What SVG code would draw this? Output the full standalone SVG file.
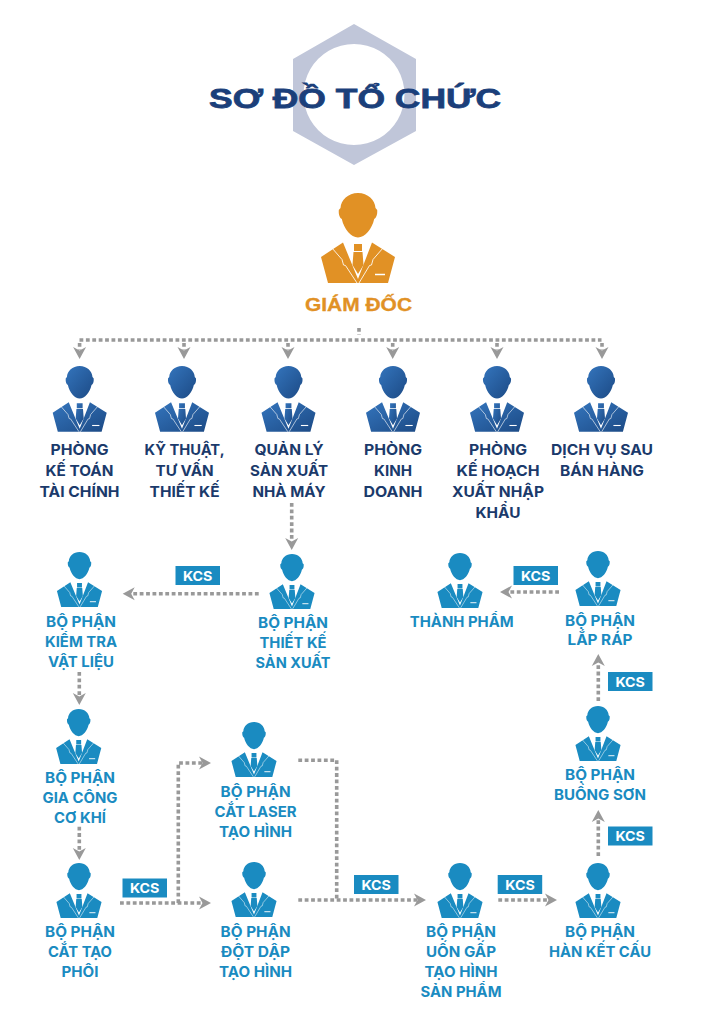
<svg xmlns="http://www.w3.org/2000/svg" width="723" height="1024" viewBox="0 0 723 1024">
<style>
text{font-family:Inter,"Noto Sans","DejaVu Sans",sans-serif;font-weight:700;text-anchor:middle}
.nv{font-size:14.6px;fill:#1b3a6b}
.bl{font-size:14.2px;fill:#1a8bc1}
.kt{font-size:13.600px;fill:#fff}
.kb{fill:#1a8bc1}
.c{fill:none;stroke:#999;stroke-width:3.6;stroke-dasharray:3.8 2.6}
.ia{marker-end:url(#ah)}
.ic-b{fill:url(#gb)}
.ic-l{fill:#1a8bc1}
.ic-o{fill:#e19125}
.ln{fill:none;stroke:#fff;stroke-width:.85}
</style>
<defs>
<linearGradient id="gb" x1="0" y1="0" x2="1" y2="1"><stop offset="0" stop-color="#3475bd"/><stop offset="1" stop-color="#1c4a85"/></linearGradient>
<marker id="ah" markerUnits="userSpaceOnUse" markerWidth="15" markerHeight="15" refX="3" refY="7.500" orient="auto"><path d="M0 1L12 7.500L0 14L3.500 7.500Z" fill="#999"/></marker>
<g id="p">
<path d="M0 0C-10 0-17 7-17.5 15L-19.2 17C-19.600 22-18 25-16.200 26C-14 36-7 44.500 0 44.500C7 44.500 14 36 16.200 26C18 25 19.600 22 19.200 17L17.500 15C17 7 10 0 0 0Z"/>
<path d="M-15 49.500L-37 64L-30 90L30 90L37 64L14 49.500L0 86Z"/>
<path d="M-4 51H4V58H-4ZM-4.500 59H4.500L5.500 72L0 81L-5.500 72Z"/>
<path class="ln" d="M-26 55L-16 66.500L-14.500 72L-12.500 72.500L-1 90M25 55L15 66.500L13.500 72L11.500 72.500L1 90"/>
<path class="ln" d="M17 81.500H27" style="stroke-width:1.500"/>
</g>
</defs>
<g id="title">
<path fill="#c0c6d9" fill-rule="evenodd" d="M354 24L416 59V131L354 165L293 131V59ZM354 44a50.500 50.500 0 1 0 0.010 0Z"/>
<text x="355" y="108" font-size="28" textLength="292" lengthAdjust="spacingAndGlyphs" style="font-family:'Liberation Sans',sans-serif;font-weight:700;fill:#1b3f7a;stroke:#1b3f7a;stroke-width:.8">SƠ ĐỒ TỔ CHỨC</text>
</g>
<g id="connectors">
<path class="c" d="M359 328V335"/>
<path class="c" d="M79.500 340H601.500"/>
<path class="c ia" d="M79.600 343V350"/>
<path class="c ia" d="M184 343V350"/>
<path class="c ia" d="M288 343V350"/>
<path class="c ia" d="M392.700 343V350"/>
<path class="c ia" d="M497 343V350"/>
<path class="c ia" d="M602 343V350"/>
<path class="c ia" d="M291.700 503V541"/>
<path class="c ia" d="M258.700 593.700H131.700"/>
<path class="c ia" d="M79.300 672V696"/>
<path class="c ia" d="M79.300 826.700V851"/>
<path class="c ia" d="M120 903H202"/>
<path class="c ia" d="M178.300 903V763H202"/>
<path class="c" d="M298.300 760.300H336.700V900"/>
<path class="c ia" d="M298.300 900H417"/>
<path class="c ia" d="M498.300 900H548"/>
<path class="c ia" d="M598.300 856V819"/>
<path class="c ia" d="M598.300 701V663"/>
<path class="c ia" d="M559 592H509"/>
</g>
<g id="kcs">
<rect class="kb" x="175.500" y="566" width="44.500" height="19"/><text class="kt" x="197.700" y="580.800" textLength="29.500" lengthAdjust="spacingAndGlyphs">KCS</text>
<rect class="kb" x="513.500" y="566" width="44.500" height="19"/><text class="kt" x="535.700" y="580.800" textLength="29.500" lengthAdjust="spacingAndGlyphs">KCS</text>
<rect class="kb" x="608" y="672" width="44.500" height="19"/><text class="kt" x="630.200" y="686.800" textLength="29.500" lengthAdjust="spacingAndGlyphs">KCS</text>
<rect class="kb" x="608" y="826.500" width="44.500" height="19"/><text class="kt" x="630.200" y="841.300" textLength="29.500" lengthAdjust="spacingAndGlyphs">KCS</text>
<rect class="kb" x="497.700" y="875" width="44.500" height="19"/><text class="kt" x="520" y="889.800" textLength="29.500" lengthAdjust="spacingAndGlyphs">KCS</text>
<rect class="kb" x="122.500" y="878.500" width="44.500" height="19"/><text class="kt" x="144.700" y="893.300" textLength="29.500" lengthAdjust="spacingAndGlyphs">KCS</text>
<rect class="kb" x="354" y="875" width="44.500" height="19"/><text class="kt" x="376.200" y="889.800" textLength="29.500" lengthAdjust="spacingAndGlyphs">KCS</text>
</g>
<g id="n-giam-doc"><use href="#p" class="ic-o" transform="translate(358 193)"/><text x="358.500" y="311" font-size="18" textLength="107" lengthAdjust="spacingAndGlyphs" style="font-family:'Liberation Sans',sans-serif;fill:#e19125;stroke:#e19125;stroke-width:.3">GIÁM ĐỐC</text></g>
<g id="n-ke-toan"><use href="#p" class="ic-b" transform="translate(79.700 366) scale(.73)"/><text class="nv" x="79.500" y="454.500" textLength="58" lengthAdjust="spacingAndGlyphs">PHÒNG</text><text class="nv" x="79.500" y="475.500" textLength="68" lengthAdjust="spacingAndGlyphs">KẾ TOÁN</text><text class="nv" x="79.500" y="496.500" textLength="80" lengthAdjust="spacingAndGlyphs">TÀI CHÍNH</text></g>
<g id="n-ky-thuat"><use href="#p" class="ic-b" transform="translate(182 366) scale(.73)"/><text class="nv" x="184.600" y="454.500" textLength="80" lengthAdjust="spacingAndGlyphs">KỸ THUẬT,</text><text class="nv" x="184.600" y="475.500" textLength="58" lengthAdjust="spacingAndGlyphs">TƯ VẤN</text><text class="nv" x="184.600" y="496.500" textLength="70" lengthAdjust="spacingAndGlyphs">THIẾT KẾ</text></g>
<g id="n-quan-ly"><use href="#p" class="ic-b" transform="translate(288.500 366) scale(.73)"/><text class="nv" x="289" y="454.500" textLength="69" lengthAdjust="spacingAndGlyphs">QUẢN LÝ</text><text class="nv" x="289" y="475.500" textLength="78" lengthAdjust="spacingAndGlyphs">SẢN XUẤT</text><text class="nv" x="289" y="496.500" textLength="73" lengthAdjust="spacingAndGlyphs">NHÀ MÁY</text></g>
<g id="n-kinh-doanh"><use href="#p" class="ic-b" transform="translate(393 366) scale(.73)"/><text class="nv" x="393" y="454.500" textLength="58" lengthAdjust="spacingAndGlyphs">PHÒNG</text><text class="nv" x="393" y="475.500" textLength="38" lengthAdjust="spacingAndGlyphs">KINH</text><text class="nv" x="393" y="496.500" textLength="59" lengthAdjust="spacingAndGlyphs">DOANH</text></g>
<g id="n-ke-hoach"><use href="#p" class="ic-b" transform="translate(497 366) scale(.73)"/><text class="nv" x="498" y="454.500" textLength="58" lengthAdjust="spacingAndGlyphs">PHÒNG</text><text class="nv" x="498" y="475.500" textLength="83" lengthAdjust="spacingAndGlyphs">KẾ HOẠCH</text><text class="nv" x="498" y="496.500" textLength="92" lengthAdjust="spacingAndGlyphs">XUẤT NHẬP</text><text class="nv" x="498" y="517.500" textLength="45" lengthAdjust="spacingAndGlyphs">KHẨU</text></g>
<g id="n-dich-vu"><use href="#p" class="ic-b" transform="translate(601 366) scale(.73)"/><text class="nv" x="602" y="454.500" textLength="102" lengthAdjust="spacingAndGlyphs">DỊCH VỤ SAU</text><text class="nv" x="602" y="475.500" textLength="84" lengthAdjust="spacingAndGlyphs">BÁN HÀNG</text></g>
<g id="n-thiet-ke"><use href="#p" class="ic-l" transform="translate(292 554) scale(.61)"/><text class="bl" x="293" y="628" textLength="70" lengthAdjust="spacingAndGlyphs">BỘ PHẬN</text><text class="bl" x="293" y="648" textLength="67" lengthAdjust="spacingAndGlyphs">THIẾT KẾ</text><text class="bl" x="293" y="668" textLength="75" lengthAdjust="spacingAndGlyphs">SẢN XUẤT</text></g>
<g id="n-kiem-tra"><use href="#p" class="ic-l" transform="translate(79.500 552) scale(.61)"/><text class="bl" x="81" y="627" textLength="70" lengthAdjust="spacingAndGlyphs">BỘ PHẬN</text><text class="bl" x="81" y="647" textLength="72" lengthAdjust="spacingAndGlyphs">KIỂM TRA</text><text class="bl" x="81" y="667" textLength="66" lengthAdjust="spacingAndGlyphs">VẬT LIỆU</text></g>
<g id="n-gia-cong"><use href="#p" class="ic-l" transform="translate(78.700 709) scale(.61)"/><text class="bl" x="80" y="783" textLength="70" lengthAdjust="spacingAndGlyphs">BỘ PHẬN</text><text class="bl" x="80" y="803" textLength="75" lengthAdjust="spacingAndGlyphs">GIA CÔNG</text><text class="bl" x="80" y="823" textLength="52" lengthAdjust="spacingAndGlyphs">CƠ KHÍ</text></g>
<g id="n-cat-phoi"><use href="#p" class="ic-l" transform="translate(79 863) scale(.61)"/><text class="bl" x="80" y="937" textLength="70" lengthAdjust="spacingAndGlyphs">BỘ PHẬN</text><text class="bl" x="80" y="957" textLength="64" lengthAdjust="spacingAndGlyphs">CẮT TẠO</text><text class="bl" x="80" y="977" textLength="37" lengthAdjust="spacingAndGlyphs">PHÔI</text></g>
<g id="n-cat-laser"><use href="#p" class="ic-l" transform="translate(254 722) scale(.61)"/><text class="bl" x="255.600" y="797" textLength="70" lengthAdjust="spacingAndGlyphs">BỘ PHẬN</text><text class="bl" x="255.600" y="817" textLength="82" lengthAdjust="spacingAndGlyphs">CẮT LASER</text><text class="bl" x="255.600" y="837" textLength="73" lengthAdjust="spacingAndGlyphs">TẠO HÌNH</text></g>
<g id="n-dot-dap"><use href="#p" class="ic-l" transform="translate(254 862) scale(.61)"/><text class="bl" x="255.600" y="937" textLength="70" lengthAdjust="spacingAndGlyphs">BỘ PHẬN</text><text class="bl" x="255.600" y="957" textLength="69" lengthAdjust="spacingAndGlyphs">ĐỘT DẬP</text><text class="bl" x="255.600" y="977" textLength="73" lengthAdjust="spacingAndGlyphs">TẠO HÌNH</text></g>
<g id="n-uon-gap"><use href="#p" class="ic-l" transform="translate(460 863) scale(.61)"/><text class="bl" x="461" y="937" textLength="70" lengthAdjust="spacingAndGlyphs">BỘ PHẬN</text><text class="bl" x="461" y="957" textLength="70" lengthAdjust="spacingAndGlyphs">UỐN GẤP</text><text class="bl" x="461" y="977" textLength="73" lengthAdjust="spacingAndGlyphs">TẠO HÌNH</text><text class="bl" x="461" y="997" textLength="81" lengthAdjust="spacingAndGlyphs">SẢN PHẨM</text></g>
<g id="n-han"><use href="#p" class="ic-l" transform="translate(598 863) scale(.61)"/><text class="bl" x="600" y="937" textLength="70" lengthAdjust="spacingAndGlyphs">BỘ PHẬN</text><text class="bl" x="600" y="957" textLength="102" lengthAdjust="spacingAndGlyphs">HÀN KẾT CẤU</text></g>
<g id="n-buong-son"><use href="#p" class="ic-l" transform="translate(598 706) scale(.61)"/><text class="bl" x="600" y="780" textLength="70" lengthAdjust="spacingAndGlyphs">BỘ PHẬN</text><text class="bl" x="600" y="800" textLength="92" lengthAdjust="spacingAndGlyphs">BUỒNG SƠN</text></g>
<g id="n-lap-rap"><use href="#p" class="ic-l" transform="translate(598 551) scale(.61)"/><text class="bl" x="600" y="625.500" textLength="70" lengthAdjust="spacingAndGlyphs">BỘ PHẬN</text><text class="bl" x="600" y="645" textLength="65" lengthAdjust="spacingAndGlyphs">LẮP RÁP</text></g>
<g id="n-thanh-pham"><use href="#p" class="ic-l" transform="translate(460 553) scale(.61)"/><text class="bl" x="461.700" y="627" textLength="104" lengthAdjust="spacingAndGlyphs">THÀNH PHẨM</text></g>
</svg>
